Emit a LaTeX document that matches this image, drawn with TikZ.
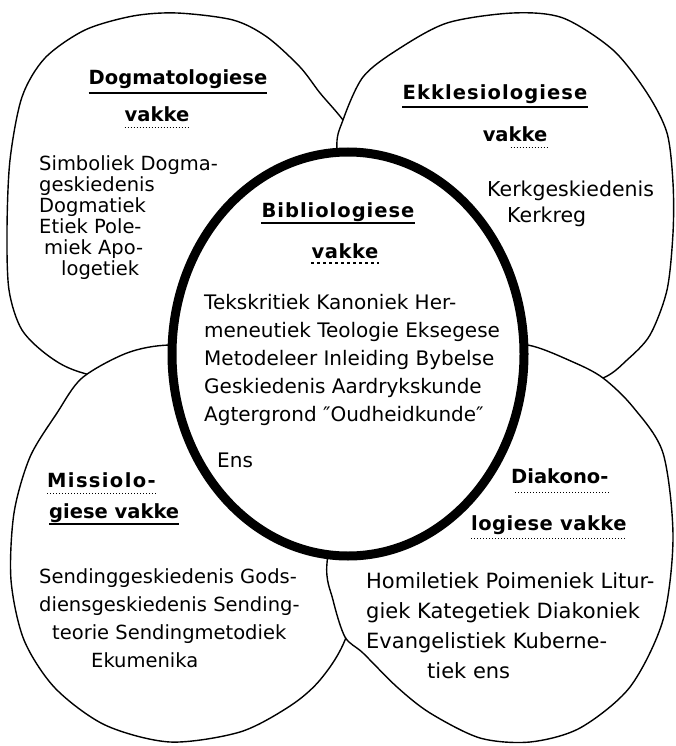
\documentclass[tikz,border=0pt]{standalone}
\usepackage{fontspec}
\setmainfont{DejaVu Sans}

\tikzset{
  region/.style={draw=black, line width=1.4pt, fill=white, line join=round},
  hub/.style={draw=black, line width=9pt, fill=white},
  head/.style={font=\fontsize{19.5}{24}\selectfont\bfseries\addfontfeature{LetterSpace=#1}, inner sep=0pt},
  head/.default=0,
  body/.style 2 args={font=\fontsize{#1}{#2}\selectfont, align=left, inner sep=0pt, anchor=north west},
  uline/.style={line width=1.2pt},
  dline/.style={line width=1pt, dotted},
}

\begin{document}
\begin{tikzpicture}[x=1pt, y=-1pt]
\useasboundingbox (0,0) rectangle (675,746);

% outer regions, drawn back to front
\draw[region] plot[smooth cycle] coordinates {(177,13) (233,20) (267,37) (300,67) (320,93) (343,120)
  (375,165) (385,235) (350,315) (270,375) (170,392) (83,373)
  (50,357) (22,330) (9,290) (7,230) (10,160) (22,97) (45,58) (85,30) (133,16)};
\draw[region] plot[smooth cycle] coordinates {(82,378) (127,353) (170,345) (240,350) (310,390) (355,470)
  (368,560) (345,640) (320,680) (290,706) (240,732) (170,742) (105,725) (55,688)
  (24,640) (11,580) (14,513) (30,457) (57,413)};
\draw[region] plot[smooth cycle] coordinates {(513,13) (563,18) (613,50) (647,93) (667,133) (673,183)
  (673,233) (667,290) (650,335) (627,360) (603,378) (550,392) (470,370) (400,310)
  (350,230) (337,150) (343,120) (363,77) (397,50) (447,23)};
\draw[region] plot[smooth cycle] coordinates {(527,345) (573,362) (603,378) (633,407) (663,453) (673,537)
  (663,620) (630,687) (580,728) (530,742) (480,738) (430,713) (397,687) (363,653)
  (345,637) (333,600) (327,563) (345,470) (420,380) (480,350)};

% centre
\draw[hub] (348,354) ellipse [x radius=176, y radius=202];

% headings
\node[head, anchor=base] (dogH) at (178,85) {Dogmatologiese};
\node[head, anchor=base] (dogV) at (157,122) {vakke};
\node[head=5.5, anchor=base] (ekkH) at (495,100) {Ekklesiologiese};
\node[head, anchor=base] (ekkV) at (515,142) {vakke};
\node[head=5, anchor=base] (bibH) at (338,217) {Bibliologiese};
\node[head=3, anchor=base] (bibV) at (345,258) {vakke};
\node[head=7, anchor=base west] (misH) at (47,487) {Missiolo-};
\node[head, anchor=base west] (misV) at (49,518) {giese vakke};
\node[head, anchor=base west] (diaH) at (511,483) {Diakono-};
\node[head=2.5, anchor=base west] (diaV) at (471,530) {logiese vakke};

\draw[uline] ([yshift=-8pt]dogH.base west) -- ([yshift=-8pt]dogH.base east);
\draw[dline] ([yshift=-6pt]dogV.base west) -- ([yshift=-6pt]dogV.base east);
\draw[uline] ([yshift=-7pt]ekkH.base west) -- ([yshift=-7pt]ekkH.base east);
\draw[dline] ([xshift=28pt, yshift=-6pt]ekkV.base west) -- ([yshift=-6pt]ekkV.base east);
\draw[uline] ([yshift=-6pt]bibH.base west) -- ([yshift=-6pt]bibH.base east);
\draw[uline, dashed] ([yshift=-5pt]bibV.base west) -- ([yshift=-5pt]bibV.base east);
\draw[dline] ([yshift=-6pt]misH.base west) -- ([yshift=-6pt]misH.base east);
\draw[uline] ([yshift=-6pt]misV.base west) -- ([yshift=-6pt]misV.base east);
\draw[dline] ([xshift=4pt, yshift=-9pt]diaH.base west) -- ([yshift=-9pt]diaH.base east);
\draw[dline] ([yshift=-8pt]diaV.base west) -- ([yshift=-8pt]diaV.base east);

% subjects
\node[body={19.5}{21}] (dogT) at (39,155) {Simboliek Dogma-\\geskiedenis\\Dogmatiek\\Etiek Pole-\\
  \hspace*{5pt}miek Apo-\\\hspace*{22pt}logetiek};
\node[body={20.5}{26}] (ekkT) at (487,181) {Kerkgeskiedenis\\\hspace*{20pt}Kerkreg};
\node[body={20}{28}] (bibT) at (204,294) {Tekskritiek Kanoniek Her-\\meneutiek Teologie Eksegese\\
  Metodeleer Inleiding Bybelse\\Geskiedenis Aardrykskunde\\Agtergrond \symbol{"2033}Oudheidkunde\symbol{"2033}\\[18pt]
  \hspace*{13pt}Ens};
\node[body={19.5}{28}] (misT) at (39,568) {Sendinggeskiedenis Gods-\\diensgeskiedenis Sending-\\
  \hspace*{13pt}teorie Sendingmetodiek\\\hspace*{52pt}Ekumenika};
\node[body={21}{30}] (diaT) at (366,572) {Homiletiek Poimeniek Litur-\\giek Kategetiek Diakoniek\\
  Evangelistiek Kuberne-\\\hspace*{61pt}tiek ens};
\end{tikzpicture}
\end{document}
